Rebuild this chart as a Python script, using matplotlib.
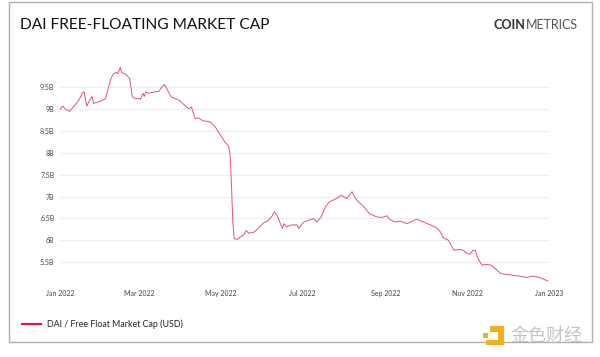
import matplotlib
matplotlib.use("Agg")
import matplotlib.pyplot as plt
from matplotlib.patches import Rectangle, Polygon
import pandas as pd

# Day offsets from 2022-01-01 and DAI free-float market cap (billions USD)
days = [0, 2, 4, 7, 10, 14, 17, 18, 20, 22, 24, 25, 28, 31, 34, 35, 38, 40, 42, 43, 45, 46,
        49, 52, 54, 56, 59, 60, 62, 63, 64, 66, 70, 74, 76, 78, 83, 87, 89, 93, 96, 98,
        101, 103, 107, 112, 116, 119, 123, 126, 127, 128, 129, 130, 132, 135, 137, 139,
        141, 145, 148, 152, 155, 158, 160, 162, 164, 166, 167, 169, 173, 177, 178, 182,
        186, 189, 192, 195, 198, 201, 204, 206, 210, 214, 216, 218, 220, 222, 227, 231,
        236, 240, 244, 246, 250, 254, 259, 262, 266, 271, 275, 281, 284, 286, 290, 294,
        298, 301, 304, 306, 308, 310, 312, 315, 318, 322, 326, 329, 333, 338, 343, 348,
        353, 358, 364]
values = [8.99, 9.07, 9.00, 8.95, 9.05, 9.20, 9.38, 9.39, 9.07, 9.20, 9.29, 9.13, 9.16,
          9.19, 9.24, 9.36, 9.70, 9.81, 9.84, 9.81, 9.95, 9.84, 9.80, 9.70, 9.28, 9.24,
          9.24, 9.22, 9.36, 9.29, 9.39, 9.36, 9.39, 9.41, 9.51, 9.56, 9.28, 9.23, 9.20,
          9.09, 9.01, 9.05, 8.78, 8.80, 8.73, 8.71, 8.59, 8.44, 8.25, 8.14, 7.95, 7.26,
          6.42, 6.04, 6.02, 6.08, 6.12, 6.22, 6.16, 6.19, 6.27, 6.40, 6.44, 6.54, 6.65,
          6.57, 6.42, 6.27, 6.38, 6.31, 6.35, 6.35, 6.27, 6.42, 6.46, 6.50, 6.42, 6.54,
          6.76, 6.88, 6.92, 6.95, 7.03, 6.95, 7.03, 7.11, 6.99, 6.90, 6.76, 6.61, 6.54,
          6.52, 6.56, 6.48, 6.42, 6.44, 6.38, 6.42, 6.48, 6.42, 6.37, 6.29, 6.19, 6.06,
          6.00, 5.77, 5.79, 5.77, 5.70, 5.68, 5.77, 5.77, 5.58, 5.43, 5.45, 5.43, 5.32,
          5.24, 5.22, 5.20, 5.18, 5.15, 5.18, 5.15, 5.07]

y_ticks = [5.5, 6.0, 6.5, 7.0, 7.5, 8.0, 8.5, 9.0, 9.5]
y_labels = ["5.5B", "6B", "6.5B", "7B", "7.5B", "8B", "8.5B", "9B", "9.5B"]
x_ticks = ["2022-01-01", "2022-03-01", "2022-05-01", "2022-07-01", "2022-09-01",
           "2022-11-01", "2023-01-01"]
x_labels = ["Jan 2022", "Mar 2022", "May 2022", "Jul 2022", "Sep 2022", "Nov 2022", "Jan 2023"]

title = "DAI FREE-FLOATING MARKET CAP"
series_name = "DAI / Free Float Market Cap (USD)"

dates = pd.Timestamp("2022-01-01") + pd.to_timedelta(days, unit="D")

W, H = 600, 357
fig = plt.figure(figsize=(W / 100, H / 100), dpi=100)
fig.patch.set_facecolor("white")

def fx(px):
    return px / W

def fy(py):
    return 1 - py / H

ax = fig.add_axes([fx(60), fy(284), fx(549) - fx(60), fy(61) - fy(284)])
line_color = "#e3537a"
ax.plot(dates, values, color=line_color, lw=0.7)
ax.set_xlim(pd.Timestamp("2022-01-01"), pd.Timestamp("2023-01-01"))
ax.set_ylim(5.0, 10.1)
ax.set_yticks(y_ticks)
ax.set_yticklabels(y_labels)
ax.set_xticks([pd.Timestamp(d) for d in x_ticks])
ax.set_xticklabels(x_labels)
for s in ax.spines.values():
    s.set_visible(False)
ax.grid(axis="y", color="#eeeeee", lw=0.8)
ax.set_axisbelow(True)
ax.tick_params(axis="both", length=0, labelsize=5, labelcolor="#444444")
ax.tick_params(axis="y", pad=4)
ax.tick_params(axis="x", pad=4)
for lab in ax.get_xticklabels() + ax.get_yticklabels():
    lab.set_family("Lato")

# Border box
fig.add_artist(Rectangle((fx(9), fy(342)), fx(592) - fx(9), fy(2) - fy(342),
                         fill=False, edgecolor="#b0b0b0", lw=1.0, transform=fig.transFigure))

# Title
fig.text(fx(20), fy(25), title, family="Lato", fontsize=11.2, color="#111111",
         ha="left", va="center")
# Logo (right aligned at x=578)
t2 = fig.text(fx(578), fy(25), "METRICS", family="Lato", fontweight="normal", fontsize=9,
              color="#555555", ha="right", va="center")
fig.canvas.draw()
bb = t2.get_window_extent()
fig.text(bb.x0 / W, fy(25), "COIN", family="Lato", fontweight="bold", fontsize=9,
         color="#333333", ha="right", va="center")

# Legend
fig.add_artist(plt.Line2D([fx(22), fx(41)], [fy(324), fy(324)], color="#e8163f", lw=1.5,
                          transform=fig.transFigure))
fig.text(fx(47), fy(324), series_name, family="Lato", fontsize=6.4, color="#222222",
         ha="left", va="center")

# Watermark
fig.add_artist(Rectangle((fx(483), fy(338)), fx(5), 5 / H,
                         facecolor="#f2b01e", edgecolor="none", transform=fig.transFigure))
fig.add_artist(Polygon([(fx(490), fy(326)), (fx(504), fy(326)), (fx(504), fy(345)),
                        (fx(486), fy(345)), (fx(486), fy(340)), (fx(498), fy(340)),
                        (fx(498), fy(332)), (fx(490), fy(332))],
                       closed=True, facecolor="#f2b01e", edgecolor="none",
                       transform=fig.transFigure))
fig.text(fx(510), fy(336), "金色财经", family=["Noto Sans CJK SC", "DejaVu Sans"], fontsize=13,
         color="#c4c4c4", ha="left", va="center")

fig.savefig("out.png", dpi=100, facecolor="white")
